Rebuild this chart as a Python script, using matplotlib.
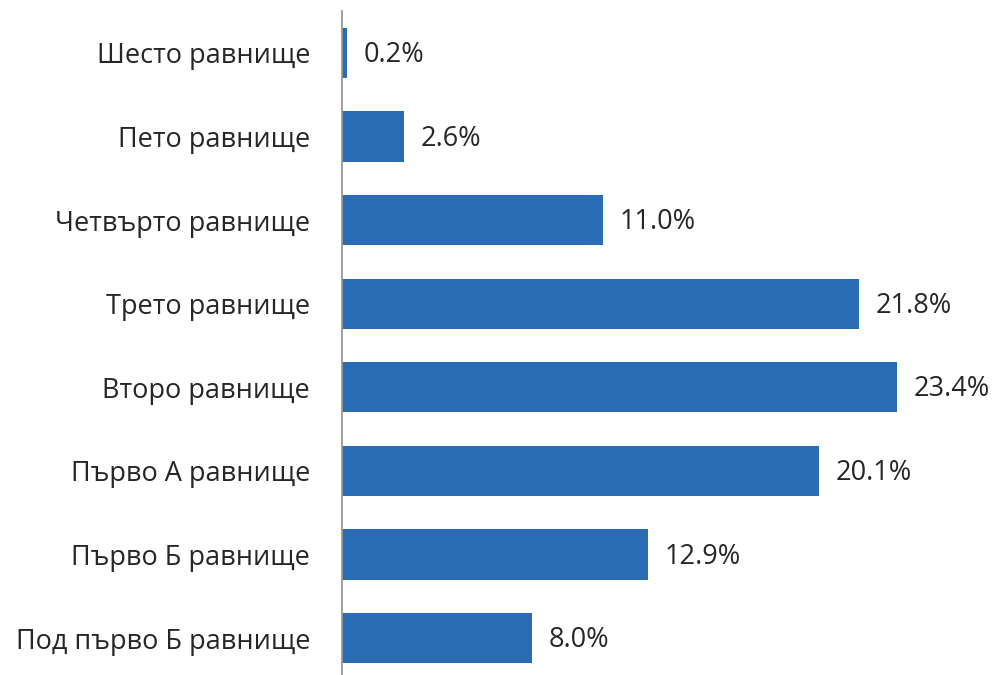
import matplotlib
matplotlib.use("Agg")
import matplotlib.pyplot as plt

categories = ["Шесто равнище", "Пето равнище", "Четвърто равнище", "Трето равнище",
              "Второ равнище", "Първо А равнище", "Първо Б равнище", "Под първо Б равнище"]
values = [0.2, 2.6, 11.0, 21.8, 23.4, 20.1, 12.9, 8.0]
value_labels = ["0.2%", "2.6%", "11.0%", "21.8%", "23.4%", "20.1%", "12.9%", "8.0%"]

plt.rcParams['font.family'] = ['Open Sans', 'DejaVu Sans']

W, H = 996, 675
fig = plt.figure(figsize=(W / 100, H / 100), dpi=100)
x0 = 342
xmax = 27.0
ppu = (897 - 342) / 23.4
top_px, bot_px = 11, 680
ax = fig.add_axes([x0 / W, (H - bot_px) / H, xmax * ppu / W, (bot_px - top_px) / H])

ypos = list(range(len(categories)))
ax.barh(ypos, values, height=0.6, color="#2A6CB4")
ax.set_ylim(len(categories) - 0.5, -0.5)
ax.set_xlim(0, xmax)
ax.set_yticks(ypos)
ax.set_yticklabels(categories, fontsize=19.5, color="#262626")
ax.tick_params(axis='y', length=0, pad=23)
ax.set_xticks([])
for s in ["top", "right", "bottom"]:
    ax.spines[s].set_visible(False)
ax.spines["left"].set_color("#999999")
ax.spines["left"].set_linewidth(1.3)

for y, v, lab in zip(ypos, values, value_labels):
    ax.annotate(lab, (v, y), xytext=(12, -1.5), textcoords="offset points",
                ha="left", va="center", fontsize=19.5, color="#262626")

fig.savefig("out.png", dpi=100)
